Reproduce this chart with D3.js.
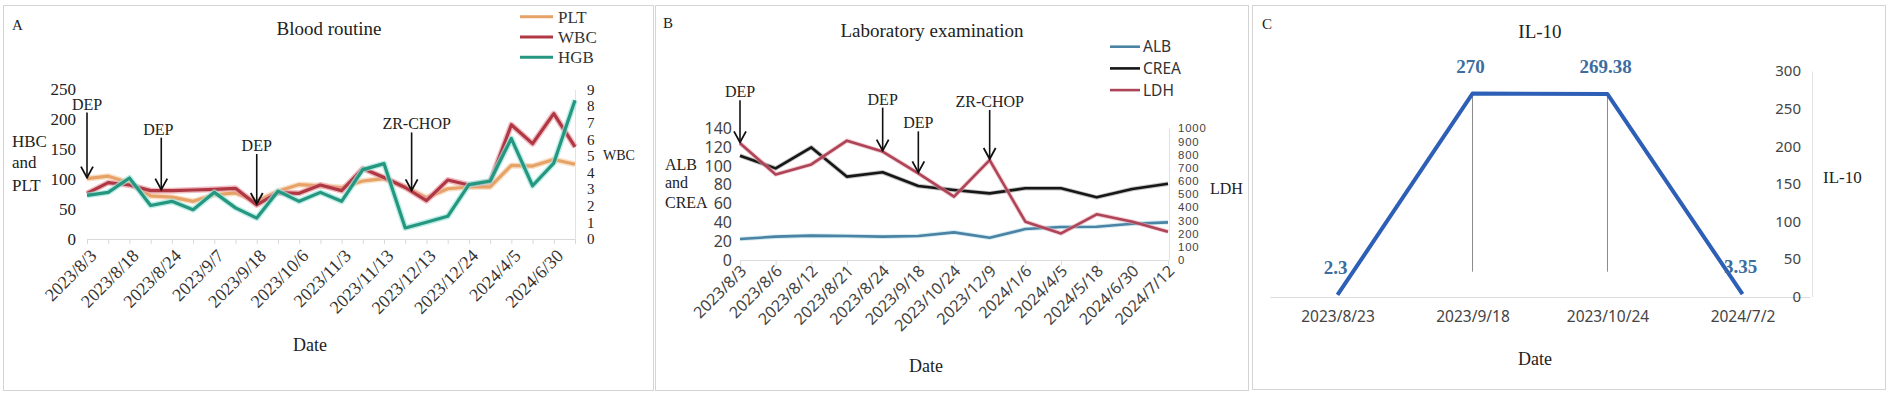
<!DOCTYPE html>
<html><head><meta charset="utf-8">
<script src="https://cdn.jsdelivr.net/npm/d3@7"></script>
<style>body{margin:0;background:#fff} svg{display:block}</style>
</head><body>
<svg id="chart" width="1890" height="399"></svg>
<script>
// ---------- Panel A: Blood routine ----------
const tickLabelsA = ["2023/8/3","2023/8/18","2023/8/24","2023/9/7","2023/9/18","2023/10/6","2023/11/3","2023/11/13","2023/12/13","2023/12/24","2024/4/5","2024/6/30"];
const pointCountA = 24;
const pltA = [101,105,94,72,70,63,74,77,63,80,91,89,86,97,101,87,69,84,87,87,123,122,133,125];
const wbcA = [2.75,3.39,3.25,2.91,2.91,2.95,2.99,3.05,2.05,2.79,2.75,3.25,2.91,4.24,3.7,3.1,2.31,3.55,3.25,3.45,6.88,5.74,7.55,5.54];
const hgbA = [73,78,102,56,63,49,78,52,35,80,63,78,63,116,126,18.5,28,38,91,97,168,89,127,232];
const yTicksA = [0,50,100,150,200,250];
const yTicksWBC = [0,1,2,3,4,5,6,7,8,9];
const annotA = [
  {text:"DEP", at:0, series:"PLT", len:66, dx:0},
  {text:"DEP", at:3.5, series:"WBC", len:53, dx:-3},
  {text:"DEP", at:8, series:"WBC", len:51, dx:0},
  {text:"ZR-CHOP", at:15.3, series:"WBC", len:59, dx:5}
];

// ---------- Panel B: Laboratory examination ----------
const datesB = ["2023/8/3","2023/8/6","2023/8/12","2023/8/21","2023/8/24","2023/9/18","2023/10/24","2023/12/9","2024/1/6","2024/4/5","2024/5/18","2024/6/30","2024/7/12"];
const albB = [22.3,24.8,25.9,25.5,24.8,25.5,29.4,23.7,32.9,35.1,35.4,38.6,40];
const creaB = [110.9,97.4,119.7,88.6,93.2,78.6,74.4,70.8,76.2,76.2,66.6,75.5,81.1];
const ldhB = [886,650,726,906,823,658,481,759,291,202,347,291,215];
const yTicksB = [0,20,40,60,80,100,120,140];
const yTicksLDH = [0,100,200,300,400,500,600,700,800,900,1000];
const annotB = [
  {text:"DEP", at:0, len:43},
  {text:"DEP", at:4, len:44},
  {text:"DEP", at:5, len:42},
  {text:"ZR-CHOP", at:7, len:50}
];

// ---------- Panel C: IL-10 ----------
const datesC = ["2023/8/23","2023/9/18","2023/10/24","2024/7/2"];
const il10C = [2.3,270,269.38,3.35];
const yTicksC = [0,50,100,150,200,250,300];

const serif = '"Liberation Serif","Times New Roman",serif';
const sans = '"Noto Sans","DejaVu Sans",sans-serif';
const svg = d3.select('#chart');

// frames
[[3,5,650,385],[655,5,593,385],[1252,5,633,384]].forEach(f=>{
  svg.append('rect').attr('x',f[0]+.5).attr('y',f[1]+.5).attr('width',f[2]).attr('height',f[3])
    .attr('fill','none').attr('stroke','#d4d4d4');
});

function txt(g,x,y,s,opt={}){
  return g.append('text').attr('x',x).attr('y',y).text(s)
    .attr('font-family',opt.font||serif).attr('font-size',opt.size||16)
    .attr('fill',opt.fill||'#222').attr('text-anchor',opt.anchor||'start')
    .attr('font-weight',opt.weight||'normal');
}
function drawArrow(g,x,yTip,len,label,dx,size){
  g.append('line').attr('x1',x).attr('x2',x).attr('y1',yTip-len).attr('y2',yTip-1)
    .attr('stroke','#111').attr('stroke-width',1.6);
  g.append('path').attr('d',`M${x-6},${yTip-12}L${x},${yTip-1}L${x+6},${yTip-12}`)
    .attr('fill','none').attr('stroke','#111').attr('stroke-width',1.8);
  txt(g,x+dx,yTip-len-3,label,{anchor:'middle',size:size});
}

// ================= Panel A =================
const gA = svg.append('g');
const xA = d3.scaleLinear().domain([0,pointCountA-1]).range([87,575]);
const yA = d3.scaleLinear().domain([0,250]).range([239,89.5]);
const yA2 = d3.scaleLinear().domain([0,9]).range([239,89.5]);

gA.append('g').attr('transform','translate(0,239)')
  .call(d3.axisBottom(xA).tickValues(d3.range(pointCountA)).tickSize(5).tickSizeOuter(0)
    .tickFormat(i=> i%2===0 ? tickLabelsA[i/2] : ''))
  .call(g=>{
    g.select('.domain').attr('stroke','#d9d9d9');
    g.selectAll('.tick line').attr('stroke','#d9d9d9');
    g.selectAll('.tick text').attr('font-family',serif).attr('font-size',18).attr('fill','#333')
      .attr('text-anchor','end').attr('x',0).attr('y',0).attr('dy',0)
      .attr('transform','translate(10,18) rotate(-45)');
  });
gA.append('g').attr('transform','translate(80,0)')
  .call(d3.axisLeft(yA).tickValues(yTicksA).tickSize(0).tickPadding(4))
  .call(g=>{ g.select('.domain').remove();
    g.selectAll('text').attr('font-family',serif).attr('font-size',17).attr('fill','#222'); });
gA.append('g').attr('transform','translate(575,0)')
  .call(d3.axisRight(yA2).tickValues(yTicksWBC).tickSize(0).tickSizeOuter(0).tickPadding(12))
  .call(g=>{ g.select('.domain').attr('stroke','#e2e2e2');
    g.selectAll('text').attr('font-family',serif).attr('font-size',15).attr('fill','#222'); });

const seriesA = [
  {name:'PLT', data:pltA, y:yA, color:'#e6a267', halo:'#f6d3b0'},
  {name:'WBC', data:wbcA, y:yA2, color:'#b03844', halo:'#e8a0a6'},
  {name:'HGB', data:hgbA, y:yA, color:'#25967f', halo:'#9fe6dc'}
];
seriesA.forEach(s=>{
  const line = d3.line().x((d,i)=>xA(i)).y(d=>s.y(d));
  gA.append('path').attr('d',line(s.data)).attr('fill','none').attr('stroke',s.halo)
    .attr('stroke-width',6).attr('stroke-linejoin','round').attr('opacity',0.7);
  gA.append('path').attr('d',line(s.data)).attr('fill','none').attr('stroke',s.color)
    .attr('stroke-width',3.2).attr('stroke-linejoin','round');
});
annotA.forEach(a=>{
  const s = seriesA.find(d=>d.name===a.series);
  const i0 = Math.floor(a.at), i1 = Math.min(i0+1,pointCountA-1), t = a.at-i0;
  const v = s.data[i0]*(1-t)+s.data[i1]*t;
  drawArrow(gA,xA(a.at),s.y(v),a.len,a.text,a.dx,16);
});
// legend A
seriesA.forEach((s,k)=>{
  const yy = 16.7 + k*20.3;
  gA.append('line').attr('x1',520).attr('x2',553).attr('y1',yy).attr('y2',yy)
    .attr('stroke',s.color).attr('stroke-width',3);
  txt(gA,558,yy+6,s.name,{size:17,fill:'#333'});
});
txt(gA,12,30,'A',{size:15});
txt(gA,329,35,'Blood routine',{size:19,anchor:'middle'});
txt(gA,12,147,'HBC',{size:17});
txt(gA,12,168,'and',{size:17});
txt(gA,12,191,'PLT',{size:17});
txt(gA,603,160,'WBC',{size:14});
txt(gA,310,351,'Date',{size:18,anchor:'middle'});

// ================= Panel B =================
const gB = svg.append('g');
const xB = d3.scalePoint().domain(datesB).range([740,1168]);
const yB = d3.scaleLinear().domain([0,140]).range([260,128.3]);
const yB2 = d3.scaleLinear().domain([0,1000]).range([260,128.3]);

gB.append('g').attr('transform','translate(0,260)')
  .call(d3.axisBottom(xB).tickSize(5).tickSizeOuter(0))
  .call(g=>{
    g.select('.domain').attr('stroke','#dcdcdc');
    g.selectAll('.tick line').attr('stroke','#dcdcdc');
    g.selectAll('.tick text').attr('font-family',sans).attr('font-size',16).attr('fill','#444')
      .attr('text-anchor','end').attr('x',0).attr('y',0).attr('dy',0)
      .attr('transform','translate(7,12) rotate(-45)');
  });
gB.append('g').attr('transform','translate(736,0)')
  .call(d3.axisLeft(yB).tickValues(yTicksB).tickSize(0).tickPadding(4))
  .call(g=>{ g.select('.domain').remove();
    g.selectAll('text').attr('font-family',sans).attr('font-size',16).attr('fill','#444'); });
gB.append('g').attr('transform','translate(1169,0)')
  .call(d3.axisRight(yB2).tickValues(yTicksLDH).tickFormat(d3.format('d')).tickSize(0).tickSizeOuter(0).tickPadding(9))
  .call(g=>{ g.select('.domain').attr('stroke','#e2e2e2');
    g.selectAll('text').attr('font-family','"Liberation Sans",Arial,sans-serif').attr('font-size',11.4)
      .attr('letter-spacing',0.8).attr('fill','#444'); });

const seriesB = [
  {name:'ALB', data:albB, y:yB, color:'#4a83a3', halo:'#b4dcea'},
  {name:'CREA', data:creaB, y:yB, color:'#161616', halo:'#9a9a9a'},
  {name:'LDH', data:ldhB, y:yB2, color:'#ad4457', halo:'#e9a7b3'}
];
seriesB.forEach(s=>{
  const line = d3.line().x((d,i)=>xB(datesB[i])).y(d=>s.y(d));
  gB.append('path').attr('d',line(s.data)).attr('fill','none').attr('stroke',s.halo)
    .attr('stroke-width',4.5).attr('stroke-linejoin','round').attr('opacity',0.6);
  gB.append('path').attr('d',line(s.data)).attr('fill','none').attr('stroke',s.color)
    .attr('stroke-width',2.6).attr('stroke-linejoin','round');
});
annotB.forEach(a=>{
  drawArrow(gB,xB(datesB[a.at]),yB2(ldhB[a.at]),a.len,a.text,0,16);
});
seriesB.forEach((s,k)=>{
  const yy = 46.7 + k*21.7;
  gB.append('line').attr('x1',1110).attr('x2',1140).attr('y1',yy).attr('y2',yy)
    .attr('stroke',s.color).attr('stroke-width',2.6);
  txt(gB,1143,yy+5.5,s.name,{font:sans,size:15.5,fill:'#333'});
});
txt(gB,663,28,'B',{size:15});
txt(gB,932,37,'Laboratory examination',{size:19,anchor:'middle'});
txt(gB,665,170,'ALB',{size:16});
txt(gB,665,188,'and',{size:16});
txt(gB,665,208,'CREA',{size:16});
txt(gB,1210,194,'LDH',{size:16});
txt(gB,926,372,'Date',{size:18,anchor:'middle'});

// ================= Panel C =================
const gC = svg.append('g');
const xC = d3.scalePoint().domain(datesC).range([1270,1810]).padding(0.5);
const yC = d3.scaleLinear().domain([0,300]).range([296.7,71]);

gC.append('g').attr('transform','translate(0,297)')
  .call(d3.axisBottom(xC).tickSize(0).tickSizeOuter(0).tickPadding(14))
  .call(g=>{
    g.select('.domain').attr('stroke','#dcdcdc');
    g.selectAll('.tick text').attr('font-family',sans).attr('font-size',15.5).attr('fill','#444');
  });
gC.append('g').attr('transform','translate(1812,0)')
  .call(d3.axisLeft(yC).tickValues(yTicksC).tickSize(0).tickSizeOuter(0).tickPadding(11))
  .call(g=>{ g.select('.domain').attr('stroke','#e2e2e2');
    g.selectAll('text').attr('font-family',sans).attr('font-size',15).attr('fill','#444'); });

// drop lines
[1,2].forEach(i=>{
  gC.append('line').attr('x1',xC(datesC[i])).attr('x2',xC(datesC[i]))
    .attr('y1',yC(il10C[i])).attr('y2',yC(0)-25).attr('stroke','#8c8c8c').attr('stroke-width',1);
});
const lineC = d3.line().x((d,i)=>xC(datesC[i])).y(d=>yC(d));
gC.append('path').attr('d',lineC(il10C)).attr('fill','none').attr('stroke','#2e5fb6')
  .attr('stroke-width',4).attr('stroke-linejoin','round');
il10C.forEach((v,i)=>{
  txt(gC,xC(datesC[i])-2,yC(v)-21,String(v),{size:19,anchor:'middle',fill:'#3c6d9e',weight:'bold'});
});
txt(gC,1262,29,'C',{size:15});
txt(gC,1540,38,'IL-10',{size:19,anchor:'middle'});
txt(gC,1823,183,'IL-10',{size:17});
txt(gC,1535,365,'Date',{size:18,anchor:'middle'});
</script>
</body></html>
